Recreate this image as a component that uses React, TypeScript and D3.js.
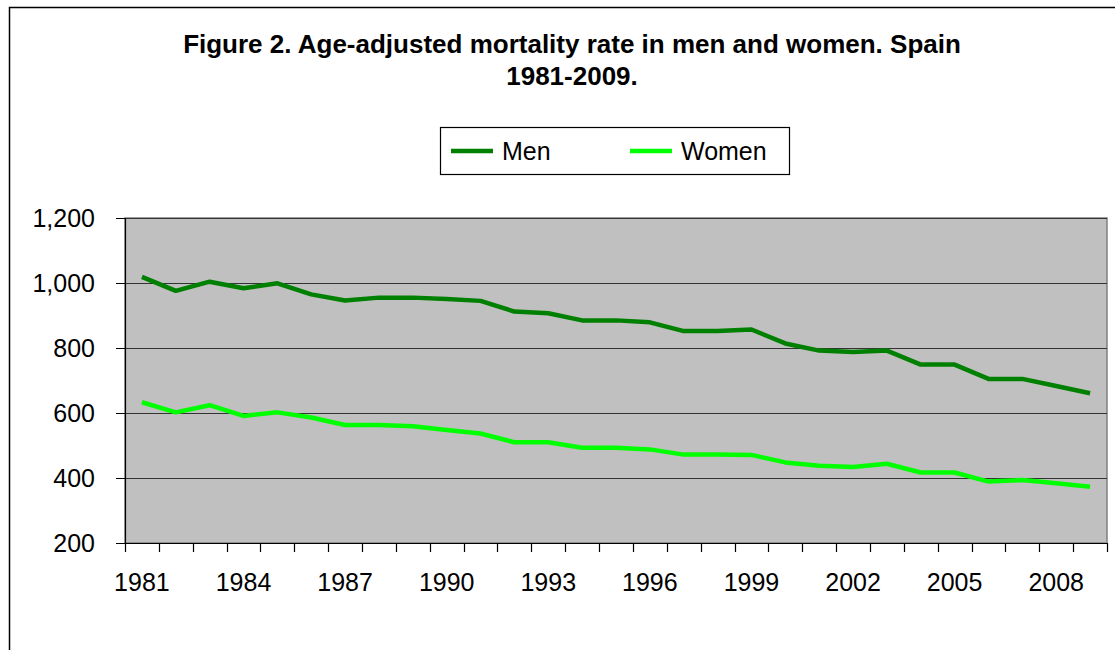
import { useEffect, useRef } from "react";
import {
  select,
  scaleBand,
  scaleLinear,
  axisLeft,
  axisBottom,
  line,
  format,
} from "d3";

const years = [
  "1981", "1982", "1983", "1984", "1985", "1986", "1987", "1988", "1989", "1990",
  "1991", "1992", "1993", "1994", "1995", "1996", "1997", "1998", "1999", "2000",
  "2001", "2002", "2003", "2004", "2005", "2006", "2007", "2008", "2009",
];
const men = [
  1019, 976, 1004, 984, 999, 965, 946, 955, 955, 951,
  945, 912, 907, 885, 885, 879, 852, 852, 857, 814,
  792, 788, 792, 749, 749, 705, 705, 683, 661,
];
const women = [
  633, 602, 624, 591, 602, 586, 563, 563, 559, 548,
  537, 510, 510, 493, 493, 488, 472, 472, 471, 448,
  438, 434, 444, 417, 417, 389, 394, 384, 373,
];
const xLabels = ["1981", "1984", "1987", "1990", "1993", "1996", "1999", "2002", "2005", "2008"];
const yTicks = [200, 400, 600, 800, 1000, 1200];
const seriesNames = ["Men", "Women"];
const seriesColors = ["#008000", "#00ff00"];

const W = 1115;
const H = 650;
const plot = { left: 125, top: 218, right: 1107, bottom: 543 };
const FONT = "Liberation Sans, Arial, sans-serif";

const App = () => {
  const svgRef = useRef<SVGSVGElement>(null);

  useEffect(() => {
    document.body.style.margin = "0";
    const svg = select(svgRef.current);
    svg.selectAll("*").remove();

    const x = scaleBand<string>()
      .domain(years)
      .range([plot.left, plot.right])
      .paddingInner(0)
      .paddingOuter(0);
    const y = scaleLinear().domain([200, 1200]).range([plot.bottom, plot.top]);

    // outer chart border
    svg.append("rect")
      .attr("x", 9.5).attr("y", 7.5)
      .attr("width", W).attr("height", H)
      .attr("fill", "white").attr("stroke", "#000").attr("stroke-width", 1.5);

    // title
    const title = svg.append("text")
      .attr("text-anchor", "middle")
      .attr("font-family", FONT)
      .attr("font-weight", "bold")
      .attr("font-size", 26)
      .attr("fill", "#000");
    title.append("tspan").attr("x", 572).attr("y", 53)
      .text("Figure 2. Age-adjusted mortality rate in men and women. Spain");
    title.append("tspan").attr("x", 572).attr("y", 85).text("1981-2009.");

    // plot area
    svg.append("rect")
      .attr("x", plot.left).attr("y", plot.top)
      .attr("width", plot.right - plot.left).attr("height", plot.bottom - plot.top)
      .attr("fill", "#c0c0c0").attr("stroke", "#808080").attr("stroke-width", 1.5);

    // grid lines
    svg.append("g")
      .selectAll("line")
      .data(yTicks.slice(1))
      .enter()
      .append("line")
      .attr("x1", plot.left).attr("x2", plot.right)
      .attr("y1", (d) => Math.round(y(d)) + 0.5)
      .attr("y2", (d) => Math.round(y(d)) + 0.5)
      .attr("stroke", "#333").attr("stroke-width", 1.2);

    // y axis
    const yAxis = axisLeft(y)
      .tickValues(yTicks)
      .tickSize(9)
      .tickPadding(21)
      .tickFormat((d) => format(",")(d as number));
    const yg = svg.append("g")
      .attr("transform", `translate(${plot.left}, 0)`)
      .call(yAxis);
    yg.select(".domain").attr("stroke", "#000").attr("stroke-width", 1.2);
    yg.selectAll("line").attr("stroke", "#000");
    yg.selectAll("text")
      .attr("font-family", FONT).attr("font-size", 25).attr("fill", "#000");

    // x axis: ticks between categories, labels every third year
    const xAxis = axisBottom(x)
      .tickValues(xLabels)
      .tickSize(0)
      .tickPadding(30);
    const xg = svg.append("g")
      .attr("transform", `translate(0, ${plot.bottom})`)
      .call(xAxis);
    xg.select(".domain").remove();
    xg.selectAll("text")
      .attr("font-family", FONT).attr("font-size", 25).attr("fill", "#000");

    const bounds = years.map((d) => x(d) as number).concat([plot.right]);
    svg.append("g")
      .selectAll("line")
      .data(bounds)
      .enter()
      .append("line")
      .attr("x1", (d) => Math.round(d) + 0.5).attr("x2", (d) => Math.round(d) + 0.5)
      .attr("y1", plot.bottom).attr("y2", plot.bottom + 9)
      .attr("stroke", "#000").attr("stroke-width", 1.2);
    svg.append("line")
      .attr("x1", plot.left).attr("x2", plot.right)
      .attr("y1", plot.bottom + 0.5).attr("y2", plot.bottom + 0.5)
      .attr("stroke", "#000").attr("stroke-width", 1.2);

    // series lines
    const cx = (i: number) => (x(years[i]) as number) + x.bandwidth() / 2;
    const lineGen = line<number>()
      .x((_, i) => cx(i))
      .y((d) => y(d));
    [men, women].forEach((vals, k) => {
      svg.append("path")
        .attr("fill", "none")
        .attr("stroke", seriesColors[k])
        .attr("stroke-width", 4.5)
        .attr("stroke-linejoin", "round")
        .attr("d", lineGen(vals));
    });

    // legend
    const lg = svg.append("g");
    lg.append("rect")
      .attr("x", 440.5).attr("y", 127.5)
      .attr("width", 349).attr("height", 47)
      .attr("fill", "white").attr("stroke", "#000").attr("stroke-width", 1.2);
    const legendX = [451, 630];
    seriesNames.forEach((name, k) => {
      lg.append("line")
        .attr("x1", legendX[k]).attr("x2", legendX[k] + 42)
        .attr("y1", 151).attr("y2", 151)
        .attr("stroke", seriesColors[k]).attr("stroke-width", 4.5);
      lg.append("text")
        .attr("x", legendX[k] + 51).attr("y", 160)
        .attr("font-family", FONT).attr("font-size", 25).attr("fill", "#000")
        .text(name);
    });
  }, []);

  return <svg ref={svgRef} width={W} height={H} style={{ display: "block" }} />;
};

export default App;
